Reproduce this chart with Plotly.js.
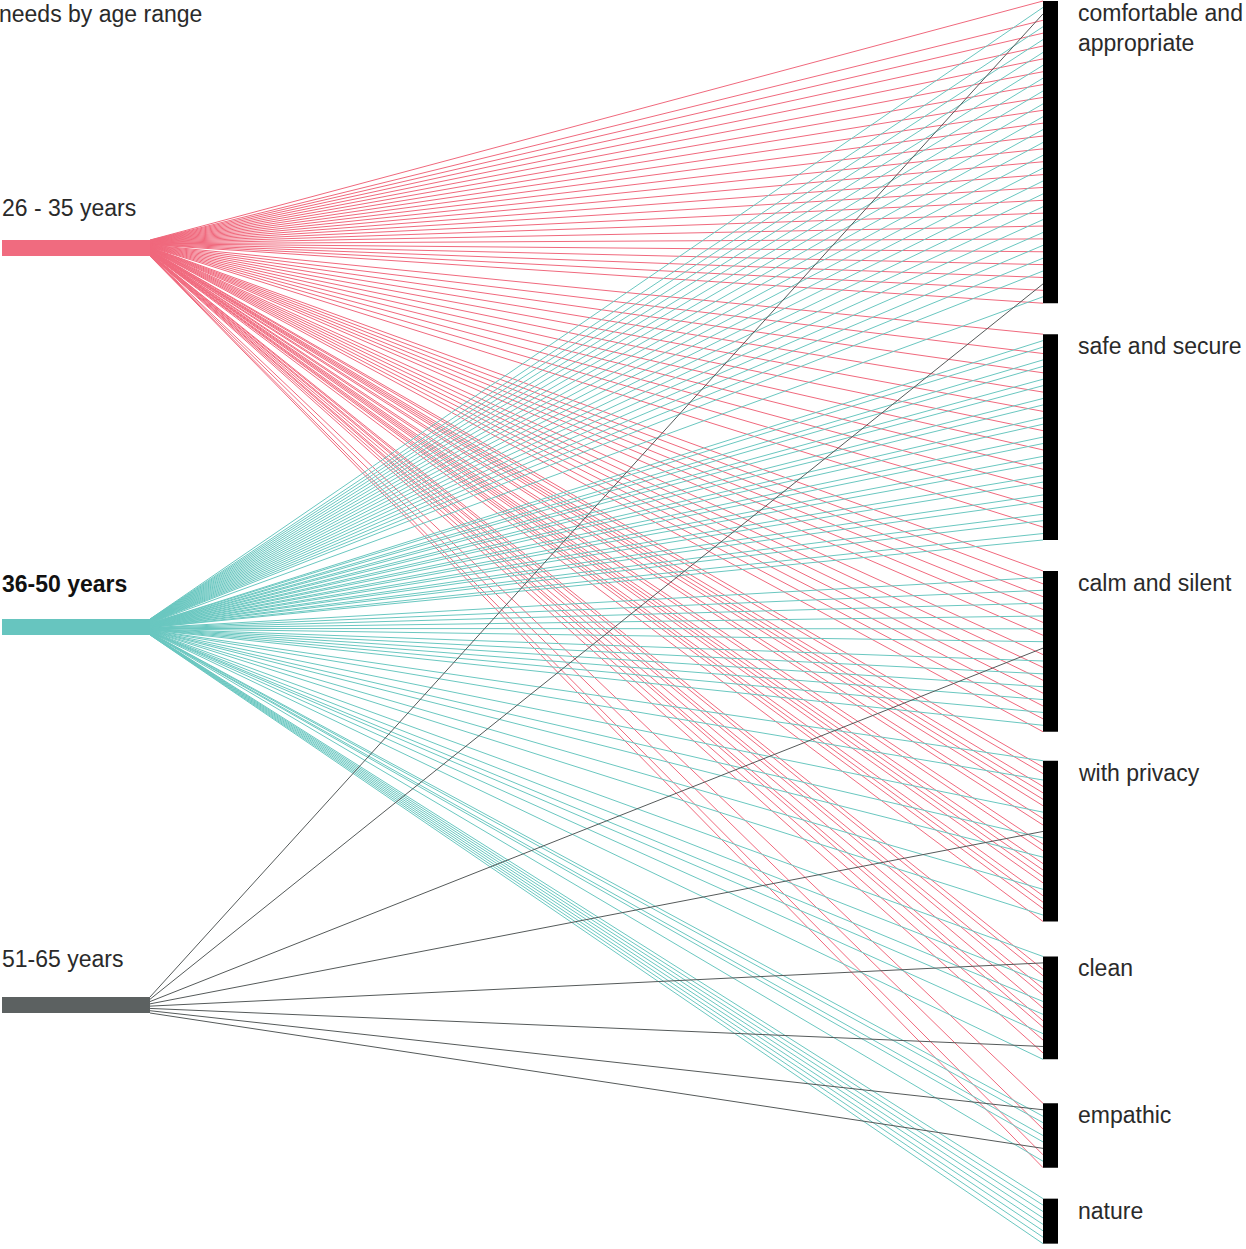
<!DOCTYPE html>
<html><head><meta charset="utf-8">
<script src="https://cdn.plot.ly/plotly-3.0.1.min.js"></script>
<style>html,body{margin:0;padding:0;background:#fff;overflow:hidden}</style>
</head><body><div id="chart" style="width:1246px;height:1249px"></div>
<script>
// ---------------- data ----------------
const ageGroups = ["26 - 35 years", "36-50 years", "51-65 years"];
const needs = ["comfortable and<br>appropriate", "safe and secure", "calm and silent", "with privacy", "clean", "empathic", "nature"];
// one entry per response line, top to bottom on each need bar; value = index into ageGroups
const comfortableLines = [0,1,2, 0,1,0,1,0,1,0,1,0,1,0,1,0,1,0,1,0,1,0,1,0,1,0,1,0,1,0,1,0,1,0,1,0,1,0,1,0,1,0,1,0, 2, 0,1,0];
const safeLines = [0,1,1, 0,1,1, 0,1,1, 0,1,1, 0,1,1, 0,1,1, 0,1,1, 0,1,1, 0,1,1, 0,1,1, 0,1,1];
const calmLines = [0,1,0,1,0,1,0,1,0,1,0,1, 2, 0,1,0,1,0,1,0,1,0,1,0,1,0];
const privacyLines = [1,0,0,1,0,0,0,0,1,0,0,2,1,0,0,1,0,0,0,0,1,0,0,0,1,0];
const cleanLines = [1,2,0,0,1,0,0,1,0,1,0,0,1,0,2,0,1];
const empathicLines = [0,2,1,1,0,1,1,2,0,1,0];
const natureLines = [1,1,1,1,1,1,1,1];
const needLines = [comfortableLines, safeLines, calmLines, privacyLines, cleanLines, empathicLines, natureLines];

// ---------------- styles / layout constants ----------------
const ageColors = ["#F06B7F", "#67C5BF", "#5C6161"];
const lineColors = ["#F0697D", "#6AC7C0", "#555A5A"];
const W = 1246, H = 1249;
const pxPerSlot = 6.43, topPx = 1;
const gapAfterPx = [31, 31, 29, 35, 44, 31];
const xLeftPx = 150, xRightPx = 1043, barWpx = 15, leftBarStartPx = 2;
const leftCentersPx = [248, 627, 1005];
const leftLabelPx = [208, 583.5, 958.5];
const leftThickPx = 16;
const FONT = "Liberation Sans, Arial, Helvetica, sans-serif";
const TEXT = "#2a2a2a";

const xu = px => (px - xLeftPx) / (xRightPx - xLeftPx);
const yu = px => (px - topPx) / pxPerSlot;

// slot positions of each need bar
const needTop = [];
let cur = 0;
needLines.forEach((arr, k) => {
  needTop.push(cur);
  cur += (arr.length - 1) + (k < gapAfterPx.length ? gapAfterPx[k] / pxPerSlot : 0);
});

// gather lines per age group
const groupLines = ageGroups.map(() => []);
needLines.forEach((arr, k) => arr.forEach((g, i) => groupLines[g].push(needTop[k] + i)));

const traces = [0, 1, 2].map(g => {
  const ys = groupLines[g].slice().sort((a, b) => a - b);
  const m = ys.length;
  const c = yu(leftCentersPx[g]), half = leftThickPx / 2 / pxPerSlot;
  const x = [], y = [];
  ys.forEach((ry, j) => {
    const ly = c - half + (m > 1 ? j / (m - 1) : 0.5) * 2 * half;
    x.push(0, 1, null); y.push(ly, ry, null);
  });
  return { type: "scatter", mode: "lines", x, y, hoverinfo: "skip",
    line: { color: lineColors[g], width: 1 }, showlegend: false };
});

const shapes = [];
const annotations = [];
ageGroups.forEach((name, g) => {
  const c = yu(leftCentersPx[g]), half = leftThickPx / 2 / pxPerSlot;
  shapes.push({ type: "rect", xref: "x", yref: "y", x0: xu(leftBarStartPx), x1: 0, y0: c - half, y1: c + half,
    fillcolor: ageColors[g], line: { width: 0 }, layer: "above" });
  annotations.push({ xref: "x", yref: "y", x: xu(leftBarStartPx), y: yu(leftLabelPx[g]), xanchor: "left", yanchor: "middle",
    text: g === 1 ? "<b>" + name + "</b>" : name, showarrow: false, xshift: -2,
    font: { family: FONT, size: 23, color: g === 1 ? "#111" : TEXT } });
});
needs.forEach((name, k) => {
  const top = needTop[k], bot = needTop[k] + needLines[k].length - 1;
  shapes.push({ type: "rect", xref: "x", yref: "y", x0: 1, x1: xu(xRightPx + barWpx), y0: top, y1: bot,
    fillcolor: "#000", line: { width: 0 }, layer: "above" });
  annotations.push({ xref: "x", yref: "y", x: xu(1078), y: top, xanchor: "left", yanchor: "top", align: "left",
    text: name, showarrow: false, xshift: -2, yshift: 3,
    font: { family: FONT, size: 23, color: TEXT } });
});
annotations.push({ xref: "paper", yref: "paper", x: 0, y: 1, xanchor: "left", yanchor: "top", xshift: -3, yshift: 1,
  text: "needs by age range", showarrow: false, font: { family: FONT, size: 23, color: TEXT } });

const layout = {
  width: W, height: H, margin: { l: 0, r: 0, t: 0, b: 0 },
  paper_bgcolor: "#fff", plot_bgcolor: "#fff",
  xaxis: { range: [xu(0), xu(W)], visible: false, fixedrange: true },
  yaxis: { range: [yu(H), yu(0)], visible: false, fixedrange: true },
  shapes, annotations, hovermode: false, showlegend: false
};
Plotly.newPlot("chart", traces, layout, { displayModeBar: false, staticPlot: true });
</script></body></html>
